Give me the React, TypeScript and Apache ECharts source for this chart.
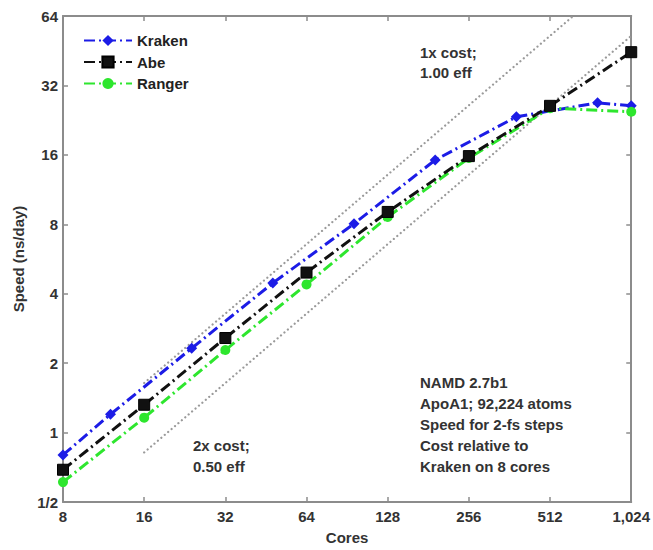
import React, { useEffect, useRef } from "react";
import * as echarts from "echarts";

const coreTicks = [8, 16, 32, 64, 128, 256, 512, 1024];
const speedTicks = [0.5, 1, 2, 4, 8, 16, 32, 64];

const krakenCores = [8, 12, 24, 48, 96, 192, 384, 768, 1024];
const krakenSpeed = [0.8, 1.2, 2.32, 4.45, 8.05, 15.2, 23.4, 26.9, 26.1];

const abeCores = [8, 16, 32, 64, 128, 256, 512, 1024];
const abeSpeed = [0.69, 1.32, 2.57, 4.94, 9.05, 15.8, 26.1, 44.6];

const rangerCores = [8, 16, 32, 64, 128, 256, 512, 1024];
const rangerSpeed = [0.61, 1.16, 2.28, 4.39, 8.6, 15.5, 25.5, 24.6];

const ref1xCores = [16, 624];
const ref1xSpeed = [1.64, 64];
const ref2xCores = [16, 1024];
const ref2xSpeed = [0.82, 52.5];

const FONT = "'Liberation Sans', Arial, sans-serif";
const AXIS_GRAY = "#8c8c8c";
const TEXT = "#333";

const zip = (xs: number[], ys: number[]) => xs.map((x, i) => [x, ys[i]]);

export default function App() {
  const ref = useRef<HTMLDivElement>(null);
  useEffect(() => {
    document.body.style.margin = "0";
    const chart = echarts.init(ref.current!, undefined, { renderer: "svg" });
    const xLabel = (v: number) => {
      const r = Math.round(v);
      return r.toLocaleString("en-US");
    };
    const yLabel = (v: number) => {
      if (Math.abs(v - 0.5) < 1e-6) return "1/2";
      return String(Math.round(v));
    };
    const baseX = {
      type: "log" as const,
      logBase: 2,
      min: coreTicks[0],
      max: coreTicks[coreTicks.length - 1],
      interval: 1,
      splitLine: { show: false },
      axisLine: { show: true, lineStyle: { color: AXIS_GRAY, width: 2 } },
      axisTick: { show: true, inside: true, length: 5, lineStyle: { color: AXIS_GRAY, width: 1.5 } },
    };
    const baseY = {
      type: "log" as const,
      logBase: 2,
      min: speedTicks[0],
      max: speedTicks[speedTicks.length - 1],
      interval: 1,
      splitLine: { show: false },
      axisLine: { show: true, lineStyle: { color: AXIS_GRAY, width: 2 } },
      axisTick: { show: true, inside: true, length: 5, lineStyle: { color: AXIS_GRAY, width: 1.5 } },
    };
    const labelStyle = { fontFamily: FONT, fontWeight: "bold" as const, fontSize: 15, color: TEXT };
    const dotted = { color: "#9a9a9a", width: 2.2, type: [0.1, 4.4], cap: "round" as const };
    chart.setOption({
      animation: false,
      backgroundColor: "#fff",
      grid: { left: 63, right: 21, top: 16, bottom: 45, containLabel: false },
      legend: {
        left: 78,
        top: 28,
        orient: "vertical",
        itemWidth: 48,
        itemHeight: 14,
        itemGap: 6.5,
        data: ["Kraken", "Abe", "Ranger"],
        textStyle: { ...labelStyle, color: "#222", padding: [0, 0, 0, 0] },
      },
      xAxis: [
        {
          ...baseX,
          position: "bottom",
          name: "Cores",
          nameLocation: "middle",
          nameGap: 28,
          nameTextStyle: { ...labelStyle, verticalAlign: "top" },
          axisLabel: { ...labelStyle, margin: 7, formatter: xLabel },
        },
        { ...baseX, position: "top", axisLabel: { show: false } },
      ],
      yAxis: [
        {
          ...baseY,
          position: "left",
          name: "Speed (ns/day)",
          nameLocation: "middle",
          nameGap: 36,
          nameTextStyle: { ...labelStyle },
          axisLabel: { ...labelStyle, margin: 5, formatter: yLabel },
        },
        { ...baseY, position: "right", axisLabel: { show: false } },
      ],
      series: [
        {
          name: "1x",
          type: "line",
          data: zip(ref1xCores, ref1xSpeed),
          symbol: "none",
          silent: true,
          lineStyle: dotted,
          z: 1,
        },
        {
          name: "2x",
          type: "line",
          data: zip(ref2xCores, ref2xSpeed),
          symbol: "none",
          silent: true,
          lineStyle: dotted,
          z: 1,
        },
        {
          name: "Kraken",
          type: "line",
          data: zip(krakenCores, krakenSpeed),
          symbol: "diamond",
          symbolSize: 11,
          showAllSymbol: true,
          itemStyle: { color: "#1c1ce6" },
          lineStyle: { color: "#1c1ce6", width: 3, type: [11, 4, 2, 4] },
          z: 3,
        },
        {
          name: "Abe",
          type: "line",
          data: zip(abeCores, abeSpeed),
          symbol: "rect",
          symbolSize: 11,
          itemStyle: { color: "#111", borderColor: "#000", borderWidth: 1 },
          lineStyle: { color: "#111", width: 3, type: [11, 4, 2, 4] },
          z: 4,
        },
        {
          name: "Ranger",
          type: "line",
          data: zip(rangerCores, rangerSpeed),
          symbol: "circle",
          symbolSize: 10,
          itemStyle: { color: "#2ee62e" },
          lineStyle: { color: "#2ee62e", width: 3, type: [11, 4, 2, 4] },
          z: 3,
        },
      ],
      graphic: [
        {
          type: "text",
          x: 420,
          y: 43,
          style: { text: "1x cost;\n1.00 eff", fontFamily: FONT, fontWeight: "bold", fontSize: 15, fill: TEXT, lineHeight: 19.5, verticalAlign: "top" },
        },
        {
          type: "text",
          x: 193,
          y: 434.5,
          style: { text: "2x cost;\n0.50 eff", fontFamily: FONT, fontWeight: "bold", fontSize: 15, fill: TEXT, lineHeight: 21, verticalAlign: "top" },
        },
        {
          type: "text",
          x: 420,
          y: 371.5,
          style: {
            text: "NAMD 2.7b1\nApoA1; 92,224 atoms\nSpeed for 2-fs steps\nCost relative to\nKraken on 8 cores",
            fontFamily: FONT,
            fontWeight: "bold",
            fontSize: 15,
            fill: TEXT,
            lineHeight: 21,
            verticalAlign: "top",
          },
        },
      ],
    });
    return () => chart.dispose();
  }, []);
  return <div ref={ref} style={{ width: 653, height: 550 }} />;
}
